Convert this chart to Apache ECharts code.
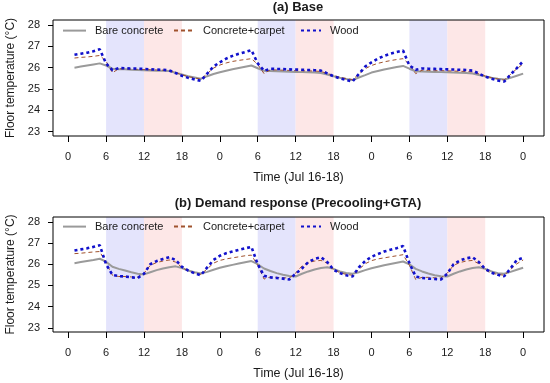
<!DOCTYPE html>
<html>
<head>
<meta charset="utf-8">
<script src="https://cdn.jsdelivr.net/npm/echarts@6/dist/echarts.min.js"></script>
<style>html,body{margin:0;padding:0;background:#fff}#c{width:550px;height:383px}</style>
</head>
<body>
<div id="c"></div>
<script>
// ---- data ----
const hours = [1,2,3,4,5,6,7,8,9,10,11,12,13,14,15,16,17,18,19,20,21,22,23,24,
  25,26,27,28,29,30,31,32,33,34,35,36,37,38,39,40,41,42,43,44,45,46,47,48,
  49,50,51,52,53,54,55,56,57,58,59,60,61,62,63,64,65,66,67,68,69,70,71,72];

const bareA = [26.00,26.05,26.10,26.15,26.20,26.10, 25.95,25.93,25.92,25.90,25.89,25.88,
  25.87,25.86,25.85,25.84,25.76,25.68, 25.60,25.54,25.48,25.60,25.70,25.78,
  25.85,25.92,25.98,26.04,26.10,25.97, 25.85,25.84,25.83,25.82,25.81,25.80,
  25.79,25.78,25.77,25.75,25.68,25.60, 25.53,25.47,25.42,25.54,25.65,25.77,
  25.84,25.91,25.97,26.03,26.08,25.95, 25.83,25.82,25.81,25.80,25.79,25.78,
  25.77,25.76,25.75,25.73,25.66,25.59, 25.53,25.48,25.44,25.52,25.62,25.72];
const carpetA = [26.45,26.48,26.50,26.53,26.57,26.30, 25.76,25.95,25.94,25.93,25.92,25.91,
  25.90,25.89,25.88,25.86,25.77,25.67, 25.58,25.52,25.46,25.72,25.98,26.12,
  26.22,26.29,26.34,26.38,26.42,26.15, 25.72,25.90,25.89,25.88,25.87,25.86,
  25.85,25.85,25.84,25.82,25.73,25.63, 25.55,25.49,25.44,25.70,25.95,26.10,
  26.20,26.27,26.33,26.38,26.42,26.15, 25.72,25.88,25.87,25.86,25.86,25.85,
  25.84,25.83,25.82,25.80,25.71,25.61, 25.53,25.47,25.42,25.68,25.95,26.17];
const woodA = [26.60,26.65,26.70,26.77,26.86,26.20, 25.88,25.98,25.97,25.96,25.95,25.94,
  25.92,25.91,25.90,25.87,25.75,25.62, 25.52,25.45,25.38,25.72,26.05,26.25,
  26.42,26.55,26.65,26.73,26.82,26.20, 25.85,25.95,25.94,25.93,25.92,25.91,
  25.90,25.89,25.88,25.86,25.73,25.60, 25.50,25.42,25.35,25.70,26.05,26.25,
  26.42,26.55,26.65,26.73,26.80,26.10, 25.90,25.96,25.95,25.94,25.93,25.92,
  25.91,25.90,25.89,25.86,25.72,25.58, 25.48,25.40,25.35,25.67,25.98,26.30];

const bareB = [26.05,26.10,26.15,26.20,26.26,26.12, 25.88,25.78,25.70,25.62,25.55,25.52,
  25.62,25.72,25.80,25.86,25.90,25.82, 25.70,25.62,25.56,25.64,25.74,25.83,
  25.90,25.97,26.03,26.09,26.15,26.00, 25.80,25.68,25.58,25.50,25.44,25.42,
  25.55,25.66,25.75,25.82,25.86,25.78, 25.66,25.59,25.55,25.62,25.72,25.81,
  25.88,25.95,26.01,26.07,26.13,26.00, 25.78,25.66,25.56,25.48,25.43,25.42,
  25.55,25.66,25.75,25.82,25.86,25.78, 25.66,25.58,25.55,25.64,25.74,25.83];
const carpetB = [26.50,26.52,26.55,26.58,26.60,26.05, 25.48,25.42,25.42,25.40,25.38,25.58,
  25.95,26.08,26.15,26.20,26.10,25.85, 25.68,25.58,25.52,25.78,26.05,26.18,
  26.25,26.30,26.35,26.40,26.43,25.95, 25.30,25.40,25.38,25.36,25.35,25.58,
  25.92,26.08,26.15,26.18,26.05,25.75, 25.60,25.52,25.48,25.75,26.02,26.17,
  26.25,26.30,26.35,26.40,26.45,25.95, 25.28,25.38,25.38,25.36,25.35,25.58,
  25.95,26.08,26.15,26.18,26.02,25.72, 25.58,25.52,25.48,25.75,26.02,26.20];
const woodB = [26.65,26.70,26.75,26.82,26.90,26.00, 25.50,25.44,25.42,25.38,25.35,25.55,
  26.00,26.15,26.25,26.33,26.20,25.88, 25.70,25.57,25.48,25.85,26.20,26.40,
  26.52,26.60,26.68,26.75,26.82,26.00, 25.45,25.38,25.35,25.32,25.28,25.55,
  25.80,26.10,26.25,26.33,26.10,25.74, 25.58,25.48,25.42,25.85,26.15,26.35,
  26.48,26.60,26.68,26.76,26.86,26.05, 25.42,25.35,25.32,25.30,25.28,25.55,
  26.00,26.18,26.28,26.33,26.10,25.78, 25.60,25.50,25.43,25.80,26.20,26.30];

const blueBands = [[6,12],[30,36],[54,60]];
const pinkBands = [[12,18],[36,42],[60,66]];

const xTickValues = [0,6,12,18,24,30,36,42,48,54,60,66,72];
const xTickLabels = ['0','6','12','18','0','6','12','18','0','6','12','18','0'];
const yTickValues = [23,24,25,26,27,28];

const seriesNames = ['Bare concrete','Concrete+carpet','Wood'];
const titles = ['(a) Base','(b) Demand response (Precooling+GTA)'];
const xTitle = 'Time (Jul 16-18)';
const yTitle = 'Floor temperature (\u00B0C)';

// ---- chart ----
const FONT = '"Liberation Sans", Arial, Helvetica, sans-serif';
const TXT = '#1a1a1a';
const colors = ['#9a9a9a','#a0522d','#1111cc'];
const lineStyles = [
  {width: 2, type: 'solid'},
  {width: 1, type: [4, 3]},
  {width: 2.6, type: [3, 3]}
];
const panels = [
  {top: 20, height: 116, data: [bareA, carpetA, woodA], legendTop: 25, titleTop: 1},
  {top: 217, height: 115, data: [bareB, carpetB, woodB], legendTop: 221, titleTop: 197}
];
const legendLeft = [62, 173, 300];
const legendW = [23, 20, 20];

const chart = echarts.init(document.getElementById('c'), null, {renderer: 'canvas'});

const grid = [], xAxis = [], yAxis = [], series = [], legend = [], title = [];
const xLabelMap = {};
xTickValues.forEach((v, i) => { xLabelMap[v] = xTickLabels[i]; });

function bandData(bands, color) {
  return bands.map(b => [{xAxis: b[0], itemStyle: {color: color}}, {xAxis: b[1]}]);
}

panels.forEach((p, pi) => {
  grid.push({left: 53, top: p.top, width: 491, height: p.height, show: true,
    outerBoundsMode: 'none', containLabel: false,
    borderColor: '#000', borderWidth: 1, backgroundColor: 'transparent', z: 5});
  title.push({text: titles[pi], left: 298, textAlign: 'center', top: p.titleTop, padding: 0,
    textStyle: {fontFamily: FONT, fontSize: 13, fontWeight: 'bold', color: TXT}});
  xAxis.push({type: 'value', gridIndex: pi, min: -2.4, max: 75.3,
    axisLine: {show: false, onZero: false},
    axisTick: {show: true, length: 6, customValues: xTickValues, lineStyle: {color: '#000'}},
    axisLabel: {show: true, customValues: xTickValues, margin: 15, fontFamily: FONT, fontSize: 11, color: TXT,
      formatter: v => xLabelMap[v] !== undefined ? xLabelMap[v] : ''},
    splitLine: {show: false},
    name: xTitle, nameLocation: 'middle', nameGap: 35,
    nameTextStyle: {fontFamily: FONT, fontSize: 12.5, color: TXT}
  });
  yAxis.push({type: 'value', gridIndex: pi, min: 22.8, max: 28.23,
    axisLine: {show: false, onZero: false},
    axisTick: {show: true, length: 5, customValues: yTickValues, lineStyle: {color: '#000'}},
    axisLabel: {show: true, customValues: yTickValues, margin: 13, fontFamily: FONT, fontSize: 11, color: TXT},
    splitLine: {show: false},
    name: yTitle, nameLocation: 'middle', nameGap: 34, nameRotate: 90,
    nameTextStyle: {fontFamily: FONT, fontSize: 12, color: TXT}
  });
  p.data.forEach((ys, si) => {
    const s = {
      name: seriesNames[si], type: 'line', xAxisIndex: pi, yAxisIndex: pi,
      data: hours.map((h, i) => [h, ys[i]]),
      symbol: 'none', smooth: false, animation: false,
      color: colors[si],
      lineStyle: Object.assign({color: colors[si]}, lineStyles[si]),
      z: 3 + si
    };
    if (si === 0) {
      s.markArea = {silent: true, z: 1,
        data: bandData(blueBands, 'rgba(225,225,252,0.9)').concat(bandData(pinkBands, 'rgba(253,228,228,0.9)'))};
    }
    series.push(s);
  });
  seriesNames.forEach((n, li) => {
    legend.push({data: [n], left: legendLeft[li], top: p.legendTop, itemWidth: legendW[li], itemHeight: 14,
      itemGap: 0, padding: 0, selectedMode: false,
      itemStyle: {opacity: 0, borderWidth: 0},
      textStyle: {fontFamily: FONT, fontSize: 11, color: TXT, padding: [0, 0, 0, 4]}});
  });
});

chart.setOption({
  animation: false,
  backgroundColor: '#fff',
  title: title, grid: grid, xAxis: xAxis, yAxis: yAxis, legend: legend, series: series
});
</script>
</body>
</html>
